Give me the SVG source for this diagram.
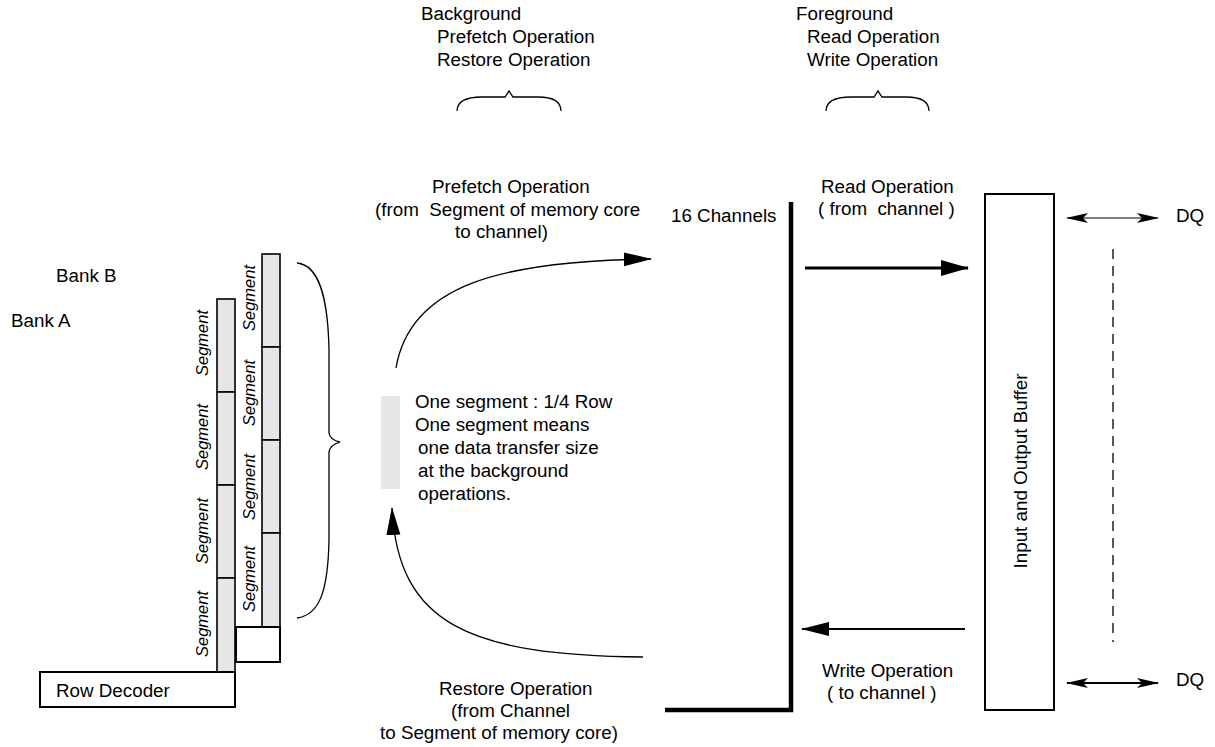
<svg xmlns="http://www.w3.org/2000/svg" width="1215" height="747" viewBox="0 0 1215 747">
<style>
text{font-family:"Liberation Sans",Arial,sans-serif;font-size:18.8px;fill:#000}
.seg{fill:#e6e6e6;stroke:#000;stroke-width:1.6}
.box{fill:#fff;stroke:#000;stroke-width:2}
.sl{font-style:italic;font-size:16.5px;text-anchor:middle}
.brace{fill:none;stroke:#000;stroke-width:1.3}
.thin{fill:none;stroke:#000;stroke-width:1.3}
</style>
<defs>
<marker id="big" markerUnits="userSpaceOnUse" markerWidth="28" markerHeight="16" refX="27" refY="8" orient="auto"><path d="M0,0 L28,8 L0,16 z" fill="#000"/></marker>
<marker id="big2" markerUnits="userSpaceOnUse" markerWidth="28" markerHeight="16" refX="27" refY="8" orient="auto"><path d="M0,1 L28,8 L0,15 z" fill="#000"/></marker>
<marker id="sm" markerUnits="userSpaceOnUse" markerWidth="22" markerHeight="10" refX="21" refY="5" orient="auto-start-reverse"><path d="M0,0 L22,5 L0,10 L5,5 z" fill="#000"/></marker>
</defs>
<rect width="1215" height="747" fill="#fff"/>

<g id="top-labels">
<text x="421" y="20">Background</text>
<text x="437" y="43">Prefetch Operation</text>
<text x="437" y="66">Restore Operation</text>
<text x="796" y="20">Foreground</text>
<text x="807" y="43">Read Operation</text>
<text x="807" y="66">Write Operation</text>
<path class="brace" d="M457,111 Q457,97 482,97 L505,97 L509,91 L513,97 L538,97 Q561,97 561,111"/>
<path class="brace" d="M826,111 Q826,97 851,97 L874,97 L878,91 L882,97 L906,97 Q929,97 929,111"/>
</g>

<g id="bank-labels">
<text x="56" y="282">Bank B</text>
<text x="11" y="327">Bank A</text>
</g>

<g id="bank-b">
<rect class="seg" x="262" y="254" width="18" height="93"/>
<rect class="seg" x="262" y="347" width="18" height="93"/>
<rect class="seg" x="262" y="440" width="18" height="93"/>
<rect class="seg" x="262" y="533" width="18" height="94"/>
<rect class="box" x="236" y="627" width="44" height="35"/>
<text class="sl" transform="translate(255,298) rotate(-90)">Segment</text>
<text class="sl" transform="translate(255,393) rotate(-90)">Segment</text>
<text class="sl" transform="translate(255,487) rotate(-90)">Segment</text>
<text class="sl" transform="translate(255,579) rotate(-90)">Segment</text>
</g>

<g id="bank-a">
<rect class="seg" x="217" y="299" width="18" height="93"/>
<rect class="seg" x="217" y="392" width="18" height="93"/>
<rect class="seg" x="217" y="485" width="18" height="93"/>
<rect class="seg" x="217" y="578" width="18" height="94"/>
<text class="sl" transform="translate(208,343) rotate(-90)">Segment</text>
<text class="sl" transform="translate(208,437) rotate(-90)">Segment</text>
<text class="sl" transform="translate(208,531) rotate(-90)">Segment</text>
<text class="sl" transform="translate(208,624) rotate(-90)">Segment</text>
</g>

<g id="row-decoder">
<rect class="box" x="40" y="672" width="195" height="35"/>
<text x="56" y="697">Row Decoder</text>
</g>

<g id="segment-brace">
<path class="brace" d="M297,263 C320,265 328,300 329,350 L329,433 Q330,440 340,442 Q330,445 329,452 L329,540 C328,590 320,615 297,618"/>
</g>

<g id="segment-note">
<rect x="381" y="396" width="19" height="93" fill="#e6e6e6"/>
<text x="415" y="408">One segment : 1/4 Row</text>
<text x="415" y="431">One segment means</text>
<text x="418" y="454">one data transfer size</text>
<text x="418" y="477">at the background</text>
<text x="418" y="500">operations.</text>
</g>

<g id="prefetch-label">
<text x="432" y="193">Prefetch Operation</text>
<text x="375" y="216">(from&#160; Segment of memory core</text>
<text x="455" y="238">to channel)</text>
</g>

<g id="restore-label">
<text x="439" y="695">Restore Operation</text>
<text x="451" y="717">(from Channel</text>
<text x="380" y="739">to Segment of memory core)</text>
</g>

<g id="channels">
<text x="671" y="222">16 Channels</text>
<path d="M791,202 L791,710 L665,710" fill="none" stroke="#000" stroke-width="4.5"/>
</g>

<g id="buffer">
<rect class="box" x="985" y="194" width="69" height="516"/>
<text transform="translate(1027,471) rotate(-90)" text-anchor="middle">Input and Output Buffer</text>
</g>

<g id="rw-labels">
<text x="821" y="193">Read Operation</text>
<text x="818" y="215">( from&#160; channel )</text>
<text x="822" y="677">Write Operation</text>
<text x="827" y="699">( to channel )</text>
<text x="1176" y="222">DQ</text>
<text x="1176" y="686">DQ</text>
</g>

<g id="connectors">
<path class="thin" d="M396,368 C410,285 500,261 651,259" marker-end="url(#big2)"/>
<path class="thin" d="M643,657 C470,655 398,625 392,508" marker-end="url(#big2)"/>
<line x1="805" y1="268" x2="968" y2="268" stroke="#000" stroke-width="3" marker-end="url(#big)"/>
<line x1="965" y1="629" x2="802" y2="629" stroke="#000" stroke-width="2" marker-end="url(#big2)"/>
<line x1="1067" y1="218" x2="1158" y2="218" stroke="#000" stroke-width="1.2" marker-start="url(#sm)" marker-end="url(#sm)"/>
<line x1="1067" y1="683" x2="1158" y2="683" stroke="#000" stroke-width="2" marker-start="url(#sm)" marker-end="url(#sm)"/>
<line x1="1113" y1="249" x2="1113" y2="642" stroke="#000" stroke-width="1.3" stroke-dasharray="10,7"/>
</g>
</svg>
